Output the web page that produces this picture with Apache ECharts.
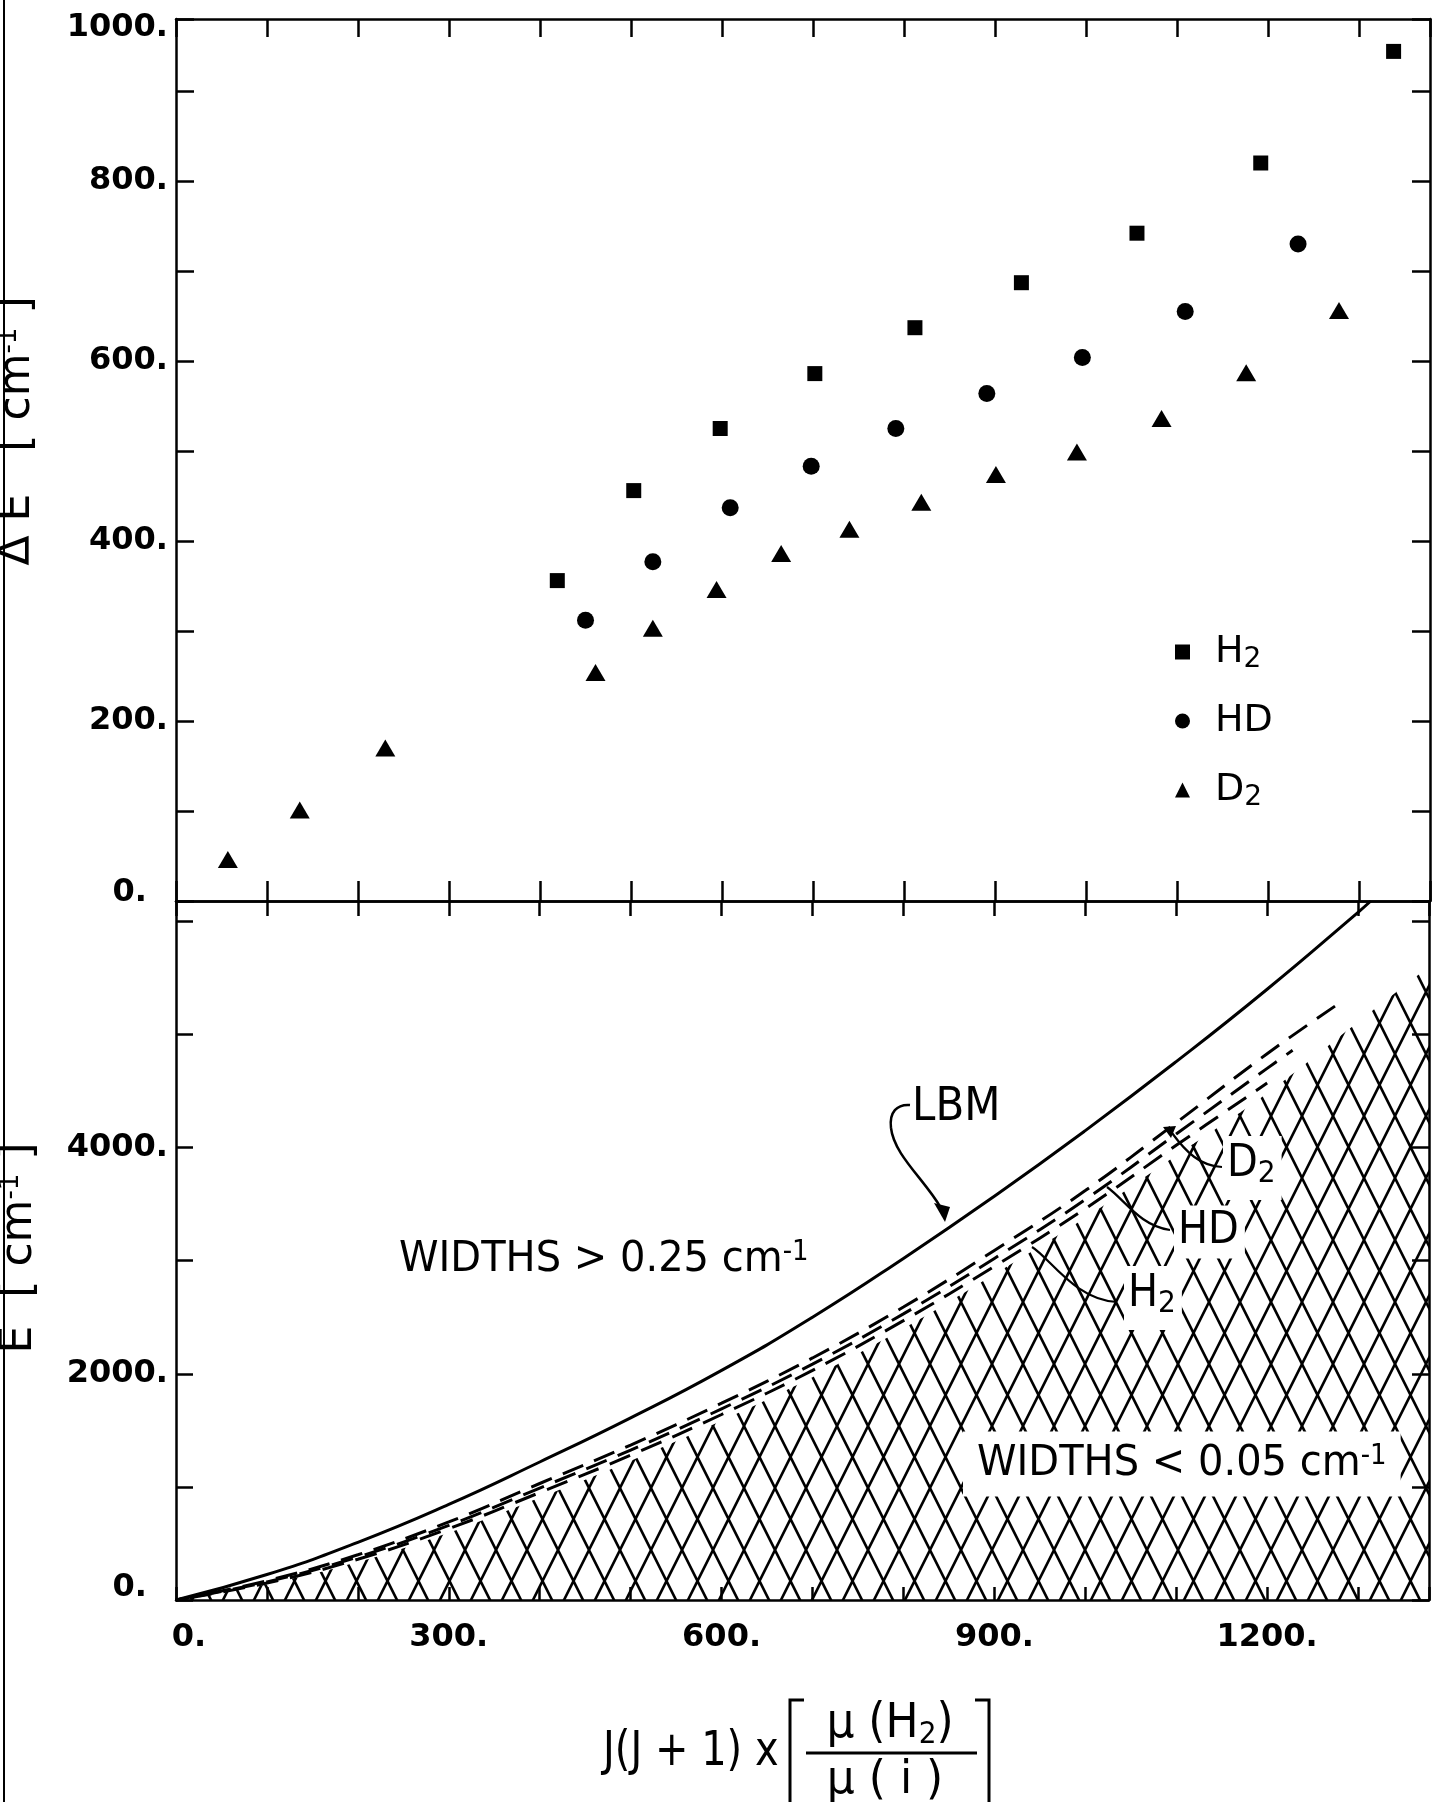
<!DOCTYPE html>
<html><head><meta charset="utf-8">
<script src="https://cdn.jsdelivr.net/npm/echarts@6/dist/echarts.min.js"></script>
<style>html,body{margin:0;padding:0;background:#fff}#c{width:1432px;height:1802px}</style>
</head><body><div id="c"></div>
<script>
// ---------------- data ----------------
// upper panel: Delta E [cm^-1] vs J(J+1) x mu(H2)/mu(i)
const h2X = [419, 503, 598, 702, 812, 929, 1056, 1192, 1338];
const h2Y = [356, 456, 525, 586, 637, 687, 742, 820, 944];
const hdX = [450, 524, 609, 698, 791, 891, 996, 1109, 1233];
const hdY = [312, 377, 437, 483, 525, 564, 604, 655, 730];
const d2X = [57, 136, 230, 461, 524, 594, 665, 740, 819, 901, 990, 1083, 1176, 1278];
const d2Y = [46, 101, 170, 254, 303, 346, 386, 413, 443, 474, 499, 536, 587, 656];

// lower panel: E [cm^-1] curves
const lbmX = [0, 100, 200, 300, 400, 500, 600, 700, 800, 900, 1000, 1100, 1200, 1300, 1314];
const lbmE = [0, 225, 510, 845, 1220, 1610, 2030, 2500, 3020, 3570, 4150, 4760, 5400, 6080, 6180];
const d2CurveX = [0, 100, 200, 300, 400, 500, 600, 700, 800, 900, 1000, 1100, 1200, 1280];
const d2CurveE = [0, 170, 400, 690, 1030, 1370, 1740, 2140, 2590, 3090, 3620, 4220, 4830, 5280];
const hdCurveX = [0, 100, 200, 300, 400, 500, 600, 700, 800, 900, 1000, 1100, 1200, 1228];
const hdCurveE = [0, 160, 380, 660, 990, 1325, 1690, 2085, 2530, 3020, 3540, 4120, 4700, 4860];
const h2CurveX = [0, 100, 200, 300, 400, 500, 600, 700, 800, 900, 1000, 1100, 1200];
const h2CurveE = [0, 150, 360, 630, 950, 1280, 1640, 2030, 2470, 2950, 3460, 4020, 4570];
const hatchX = [0, 100, 200, 300, 400, 500, 600, 700, 800, 900, 1000, 1100, 1200, 1300, 1378];
const hatchE = [0, 140, 335, 595, 905, 1230, 1585, 1970, 2400, 2880, 3380, 3930, 4480, 5110, 5600];

// axes / tick labels
const xMax = 1378;
const xTickLabels = [0, 300, 600, 900, 1200];
const topYMax = 980;
const topYTickLabels = [0, 200, 400, 600, 800, 1000];
const botYMax = 6180;
const botYTickLabels = [0, 2000, 4000];

// ---------------- chart ----------------
const FONT = '"DejaVu Sans", "Noto Sans", sans-serif';
const pairs = (xs, ys) => xs.map((x, i) => [x, ys[i]]);

function hatchPattern() {
  const c = document.createElement('canvas');
  c.width = 31; c.height = 62;
  const g = c.getContext('2d');
  g.strokeStyle = '#000'; g.lineWidth = 2.6;
  g.beginPath();
  g.moveTo(-1, 64); g.lineTo(32, -2);
  g.moveTo(-1, -2); g.lineTo(32, 64);
  g.stroke();
  return c;
}

const axLine = { show: true, onZero: false, lineStyle: { color: '#000', width: 2.5 } };
const tick = len => ({ show: true, inside: true, length: len, lineStyle: { color: '#000', width: 2.5 } });
const lblBase = { fontSize: 32, fontWeight: 'bold', fontFamily: FONT, color: '#000' };

function xAx(grid, pos, len, label) {
  return { type: 'value', gridIndex: grid, position: pos, min: 0, max: xMax, interval: 100,
    axisLine: axLine, axisTick: tick(len), axisLabel: label || { show: false }, splitLine: { show: false } };
}
function yAx(grid, pos, max, interval, len, label) {
  return { type: 'value', gridIndex: grid, position: pos, min: 0, max: max, interval: interval,
    axisLine: axLine, axisTick: tick(len), axisLabel: label || { show: false }, splitLine: { show: false } };
}

const subRich = { s: { fontSize: 28, lineHeight: 16, verticalAlign: 'bottom', fontFamily: FONT, color: '#000' },
                  sup: { fontSize: 26, lineHeight: 26, verticalAlign: 'top', fontFamily: FONT, color: '#000' } };

function curve(x1, y1, cpx1, cpy1, cpx2, cpy2, x2, y2, w) {
  return { type: 'bezierCurve', z: 51,
    shape: { x1: x1, y1: y1, cpx1: cpx1, cpy1: cpy1, cpx2: cpx2, cpy2: cpy2, x2: x2, y2: y2 },
    style: { stroke: '#000', lineWidth: w || 2.2, fill: null } };
}
function label(x, y, text, size, extra, sy) {
  return { type: 'text', z: 50, x: x, y: y, scaleY: sy || 1,
    style: Object.assign({ text: text, fontSize: size, fontFamily: FONT, fill: '#000', align: 'left', verticalAlign: 'middle', rich: subRich }, extra || {}) };
}

const option = {
  animation: false,
  backgroundColor: '#fff',
  grid: [
    { left: 176, top: 19, width: 1254, height: 882 },
    { left: 176, top: 901, width: 1254, height: 699 }
  ],
  xAxis: [
    xAx(0, 'bottom', 20),
    xAx(0, 'top', 18),
    xAx(1, 'bottom', 13, Object.assign({}, lblBase, {
      margin: 22,
      formatter: v => xTickLabels.includes(v) ? (v === 0 ? '{z|0.}' : v + '.') : '',
      rich: { z: Object.assign({}, lblBase, { padding: [0, 0, 0, 26] }) }
    })),
    xAx(1, 'top', 15)
  ],
  yAxis: [
    yAx(0, 'left', topYMax, 100, 18, Object.assign({}, lblBase, {
      margin: 8,
      formatter: v => v === topYMax ? '{t|' + topYTickLabels[topYTickLabels.length - 1] + '.}'
        : (topYTickLabels.includes(v) ? (v === 0 ? '{z|0.}' : v + '.') : ''),
      rich: { t: Object.assign({}, lblBase, { padding: [18, 0, 0, 0] }),
              z: Object.assign({}, lblBase, { padding: [0, 21, 16, 0] }) }
    })),
    yAx(0, 'right', topYMax, 100, 18),
    yAx(1, 'left', botYMax, 1000, 17, Object.assign({}, lblBase, {
      margin: 8,
      formatter: v => botYTickLabels.includes(v) ? (v === 0 ? '{z|0.}' : v + '.') : '',
      rich: { z: Object.assign({}, lblBase, { padding: [0, 21, 24, 0] }) }
    })),
    yAx(1, 'right', botYMax, 1000, 17)
  ],
  legend: {
    data: ['H2', 'HD', 'D2'], orient: 'vertical', left: 1170, top: 625,
    itemWidth: 15, itemHeight: 15, itemGap: 25, selectedMode: false,
    formatter: n => n === 'H2' ? 'H{s|2}' : (n === 'D2' ? 'D{s|2}' : 'HD'),
    textStyle: { fontSize: 38, fontFamily: FONT, color: '#000', lineHeight: 44, padding: [0, 0, 0, 20], rich: subRich }
  },
  series: [
    { type: 'scatter', name: 'H2', xAxisIndex: 0, yAxisIndex: 0, data: pairs(h2X, h2Y),
      symbol: 'rect', symbolSize: 15, itemStyle: { color: '#000', opacity: 1 } },
    { type: 'scatter', name: 'HD', xAxisIndex: 0, yAxisIndex: 0, data: pairs(hdX, hdY),
      symbol: 'circle', symbolSize: 17, itemStyle: { color: '#000', opacity: 1 } },
    { type: 'scatter', name: 'D2', xAxisIndex: 0, yAxisIndex: 0, data: pairs(d2X, d2Y),
      symbol: 'triangle', symbolSize: [20, 17], itemStyle: { color: '#000', opacity: 1 } },

    { type: 'line', name: 'hatch', xAxisIndex: 2, yAxisIndex: 2, data: pairs(hatchX, hatchE),
      smooth: 0.4, showSymbol: false, symbol: 'none', z: 1, silent: true,
      lineStyle: { width: 0, opacity: 0 },
      areaStyle: { color: { image: hatchPattern(), repeat: 'repeat' }, opacity: 1 } },
    { type: 'line', name: 'LBM', xAxisIndex: 2, yAxisIndex: 2, data: pairs(lbmX, lbmE),
      smooth: 0.5, symbol: 'none', lineStyle: { color: '#000', width: 3 } },
    { type: 'line', name: 'D2 curve', xAxisIndex: 2, yAxisIndex: 2, data: pairs(d2CurveX, d2CurveE),
      smooth: 0.4, symbol: 'none', lineStyle: { color: '#000', width: 3, type: [22, 12] } },
    { type: 'line', name: 'HD curve', xAxisIndex: 2, yAxisIndex: 2, data: pairs(hdCurveX, hdCurveE),
      smooth: 0.4, symbol: 'none', lineStyle: { color: '#000', width: 3, type: [22, 12], dashOffset: 10 } },
    { type: 'line', name: 'H2 curve', xAxisIndex: 2, yAxisIndex: 2, data: pairs(h2CurveX, h2CurveE),
      smooth: 0.4, symbol: 'none', lineStyle: { color: '#000', width: 3, type: [22, 12], dashOffset: 20 } }
  ],
  graphic: [
    { type: 'line', shape: { x1: 4, y1: 0, x2: 4, y2: 1802 }, style: { stroke: '#000', lineWidth: 2 } },
    // y-axis titles (rotated)
    { type: 'text', x: 40, y: 431, rotation: Math.PI / 2,
      style: { text: 'Δ E   [ cm{sup|-1} ]', fontSize: 44, fontFamily: FONT, fill: '#000', align: 'center', verticalAlign: 'bottom', rich: subRich } },
    { type: 'text', x: 42, y: 1248, rotation: Math.PI / 2,
      style: { text: 'E  [ cm{sup|-1} ]', fontSize: 44, fontFamily: FONT, fill: '#000', align: 'center', verticalAlign: 'bottom', rich: subRich } },
    // region annotations
    label(399, 1260, 'WIDTHS > 0.25 cm{sup|-1}', 40, null, 1.08),
    label(963, 1464, 'WIDTHS < 0.05 cm{sup|-1}', 40, { backgroundColor: '#fff', padding: [10, 14, 10, 14] }, 1.08),
    // LBM label with curved arrow
    label(912, 1108, 'LBM', 42, null, 1.12),
    curve(910, 1105, 897, 1104, 889, 1112, 891, 1128, 2.5),
    curve(891, 1128, 894, 1155, 925, 1180, 941, 1208, 2.5),
    { type: 'polygon', z: 50, shape: { points: [[934, 1203], [950, 1207], [945, 1222]] }, style: { fill: '#000' } },
    // D2 / HD / H2 labels and leaders
    label(1223, 1168, 'D{s|2}', 40, { backgroundColor: '#fff', padding: [4, 6, 10, 4], lineHeight: 44 }, 1.1),
    curve(1172, 1133, 1186, 1152, 1200, 1166, 1222, 1167),
    { type: 'polygon', z: 51, shape: { points: [[1163, 1127], [1176, 1126], [1171, 1138]] }, style: { fill: '#000' } },
    label(1174, 1232, 'HD', 40, { backgroundColor: '#fff', padding: [4, 6, 4, 4] }, 1.1),
    curve(1107, 1187, 1125, 1200, 1140, 1226, 1170, 1230),
    label(1124, 1298, 'H{s|2}', 40, { backgroundColor: '#fff', padding: [4, 6, 10, 4], lineHeight: 44 }, 1.1),
    curve(1032, 1247, 1050, 1258, 1075, 1300, 1117, 1302),
    // x-axis title
    label(603, 1752, 'J(J + 1) x', 40, null, 1.22),
    { type: 'polyline', shape: { points: [[804, 1700], [790, 1700], [790, 1802]] }, style: { stroke: '#000', lineWidth: 3, fill: null } },
    { type: 'polyline', shape: { points: [[975, 1700], [989, 1700], [989, 1802]] }, style: { stroke: '#000', lineWidth: 3, fill: null } },
    label(890, 1724, 'μ (H{s|2})', 44, { align: 'center', lineHeight: 48 }, 1.1),
    { type: 'line', shape: { x1: 806, y1: 1753, x2: 977, y2: 1753 }, style: { stroke: '#000', lineWidth: 3 } },
    label(885, 1781, 'μ ( i )', 44, { align: 'center' }, 1.05)
  ]
};

const chart = echarts.init(document.getElementById('c'), null, { renderer: 'canvas' });
chart.setOption(option);
</script>
</body></html>
